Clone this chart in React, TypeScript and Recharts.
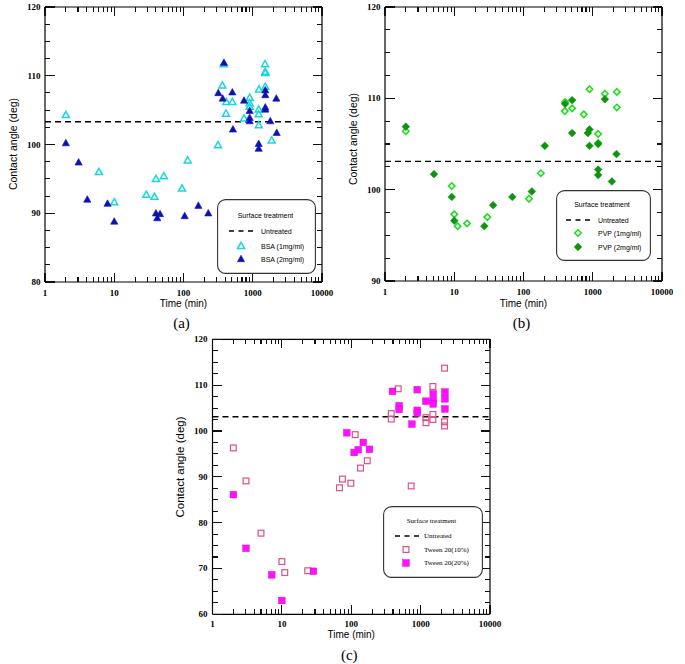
import React from 'react';
import { ScatterChart, Scatter, XAxis, YAxis, ReferenceLine, Legend } from 'recharts';

// ---------- axis ticks ----------
const timeTicks = [1, 2, 3, 4, 5, 6, 7, 8, 9, 10, 20, 30, 40, 50, 60, 70, 80, 90, 100, 200, 300, 400, 500, 600, 700, 800, 900, 1000, 2000, 3000, 4000, 5000, 6000, 7000, 8000, 9000, 10000];
const timeLabels = [1, 10, 100, 1000, 10000];
const angleTicksA = [80, 82.5, 85, 87.5, 90, 92.5, 95, 97.5, 100, 102.5, 105, 107.5, 110, 112.5, 115, 117.5, 120];
const angleLabelsA = [80, 90, 100, 110, 120];
const angleTicksB = [90, 92.5, 95, 97.5, 100, 102.5, 105, 107.5, 110, 112.5, 115, 117.5, 120];
const angleLabelsB = [90, 100, 110, 120];
const angleTicksC = [60, 62.5, 65, 67.5, 70, 72.5, 75, 77.5, 80, 82.5, 85, 87.5, 90, 92.5, 95, 97.5, 100, 102.5, 105, 107.5, 110, 112.5, 115, 117.5, 120];
const angleLabelsC = [60, 70, 80, 90, 100, 110, 120];

// ---------- untreated reference angles ----------
const untreatedA = 103.3;
const untreatedB = 103.1;
const untreatedC = 103.1;

// ---------- series: [time (min), contact angle (deg)] ----------
const bsa1: [number, number][] = [
  [2, 104.3], [6, 96.0], [10, 91.6], [29, 92.7], [38, 92.4], [40, 95.0], [52, 95.4], [95, 93.6], [115, 97.7],
  [315, 99.9], [364, 108.6], [380, 111.7], [411, 104.5], [415, 106.2], [507, 106.2], [748, 103.8],
  [903, 106.8], [903, 106.0], [903, 105.5], [1219, 105.1], [1219, 104.4], [1219, 102.8], [1230, 108.0],
  [1503, 111.7], [1518, 110.6], [1518, 110.4], [1518, 108.4], [1877, 100.6],
];
const bsa2: [number, number][] = [
  [2, 100.2], [3.06, 97.4], [4.08, 92.0], [8, 91.4], [10, 88.8], [40, 90.0], [41.8, 89.3], [45.8, 89.9],
  [104, 89.6], [164, 91.1], [228, 90.0], [318, 107.5], [368, 106.7], [384, 111.9], [507, 107.6], [518, 102.2],
  [748, 106.4], [903, 104.9], [903, 103.9], [903, 103.4], [1219, 100.1], [1219, 99.4], [1518, 107.9],
  [1518, 107.2], [1518, 105.4], [1518, 105.1], [1793, 103.4], [2188, 106.7], [2218, 101.7],
];
const pvp1: [number, number][] = [
  [2, 106.4], [9.2, 100.4], [10, 97.3], [11.2, 96.0], [15.3, 96.3], [30, 97.0], [120, 99.0], [178, 101.8],
  [395, 108.6], [399, 109.6], [504, 108.9], [743, 108.25], [897, 111.0], [1197, 106.1], [1200, 105.1],
  [1496, 110.5], [2229, 110.7], [2229, 109.0],
];
const pvp2: [number, number][] = [
  [2, 106.9], [5.1, 101.7], [9.2, 99.2], [10, 96.6], [27.2, 96.0], [36.4, 98.3], [69, 99.2], [132, 99.8],
  [203, 104.8], [399, 109.4], [504, 109.8], [504, 106.2], [850, 106.2], [897, 106.6], [897, 104.8],
  [1197, 105.0], [1197, 102.2], [1197, 101.6], [1496, 109.9], [1890, 100.9], [2200, 103.9],
];
const tween10: [number, number][] = [
  [2, 96.3], [3.04, 89.1], [5, 77.7], [10, 71.5], [11, 69.1], [23.6, 69.5], [67.6, 87.6], [74.6, 89.5],
  [98.7, 88.6], [114, 99.2], [136, 91.9], [170, 93.5], [377, 103.8], [377, 102.6], [475, 109.2], [731, 88.0],
  [1194, 102.9], [1194, 101.8], [1503, 109.7], [1503, 103.6], [1503, 102.5], [2213, 113.7], [2213, 102.0], [2213, 101.1],
];
const tween20: [number, number][] = [
  [2, 86.1], [3.04, 74.4], [7.15, 68.6], [10, 63.0], [28.5, 69.4], [86.4, 99.6], [110, 95.3], [126, 95.9],
  [149, 97.5], [183, 96.0], [393, 108.65], [490, 105.5], [490, 104.7], [749, 101.5], [893, 109.0],
  [893, 104.5], [893, 103.9], [1192, 106.5], [1516, 108.1], [1516, 106.6], [1516, 105.9], [2240, 108.5],
  [2240, 107.0], [2240, 104.8],
];

const toPts = (arr: [number, number][]) => arr.map(([x, y]) => ({ x, y }));

// ---------- marker shapes ----------
type ShapeFn = (cx: number, cy: number) => React.ReactElement;
const openTri = (c: string): ShapeFn => (cx, cy) => (
  <polygon points={`${cx},${cy - 3.6} ${cx - 3.5},${cy + 2.6} ${cx + 3.5},${cy + 2.6}`} fill="none" stroke={c} strokeWidth={1.5} />
);
const fillTri = (c: string): ShapeFn => (cx, cy) => (
  <polygon points={`${cx},${cy - 3.8} ${cx - 3.6},${cy + 2.7} ${cx + 3.6},${cy + 2.7}`} fill={c} stroke={c} strokeWidth={0.6} />
);
const openDia = (c: string): ShapeFn => (cx, cy) => (
  <polygon points={`${cx},${cy - 3.2} ${cx + 3.2},${cy} ${cx},${cy + 3.2} ${cx - 3.2},${cy}`} fill="none" stroke={c} strokeWidth={1.6} />
);
const fillDia = (c: string): ShapeFn => (cx, cy) => (
  <polygon points={`${cx},${cy - 3.9} ${cx + 3.9},${cy} ${cx},${cy + 3.9} ${cx - 3.9},${cy}`} fill={c} stroke={c} strokeWidth={0.5} />
);
const openSq = (c: string): ShapeFn => (cx, cy) => (
  <rect x={cx - 2.9} y={cy - 2.9} width={5.8} height={5.8} fill="none" stroke={c} strokeWidth={1.2} />
);
const fillSq = (c: string): ShapeFn => (cx, cy) => (
  <rect x={cx - 3.3} y={cy - 3.3} width={6.6} height={6.6} fill={c} stroke="#dd00dd" strokeWidth={0.5} />
);

type SeriesDef = { name: string; data: [number, number][]; shape: ShapeFn };

type PanelDef = {
  left: number; top: number; width: number; height: number;
  margin: { top: number; right: number; bottom: number; left: number };
  yDomain: [number, number]; yTicks: number[]; yLabels: number[];
  untreated: number;
  series: SeriesDef[];
  legend: { x: number; y: number; w: number; h: number; font: string; titleX: number; rows: number[]; dashX: [number, number]; markX: number; textX: number };
  tickFontSize: number; xLabelDy: number; yLabelDx: number;
  yTitle: { x: number; y: number; size: number };
  xTitle: { y: number; size: number };
  caption: { text: string; y: number };
};

const serif = '"Liberation Serif", "Times New Roman", serif';
const sans = '"Liberation Sans", Arial, sans-serif';
const EPS = 0.01;

function Panel(p: PanelDef) {
  const plotW = p.width - p.margin.left - p.margin.right;
  const cx = p.margin.left + plotW / 2;

  const xTick = (side: 'bottom' | 'top') => (t: any) => {
    const v = t.payload.value;
    const major = timeLabels.includes(v);
    const len = major ? 9 : 5;
    const dir = side === 'bottom' ? -1 : 1;
    const x = Number(t.x);
    const y = Number(t.y);
    return (
      <g>
        <line x1={x} x2={x} y1={y} y2={y + dir * len} stroke="#111" strokeWidth={1.1} shapeRendering="crispEdges" />
        {side === 'bottom' && major ? (
          <text x={x} y={y + p.xLabelDy} textAnchor="middle" fontFamily={serif} fontWeight="bold" fontSize={p.tickFontSize} fill="#000">{v}</text>
        ) : null}
      </g>
    );
  };
  const yTick = (side: 'left' | 'right') => (t: any) => {
    const v = t.payload.value;
    const major = p.yLabels.includes(v);
    const len = major ? 9.5 : 5;
    const dir = side === 'left' ? 1 : -1;
    const x = Number(t.x);
    const y = Number(t.y);
    return (
      <g>
        <line x1={x} x2={x + dir * len} y1={y} y2={y} stroke="#111" strokeWidth={1.1} shapeRendering="crispEdges" />
        {side === 'left' && major ? (
          <text x={x - p.yLabelDx} y={y + 3} textAnchor="end" fontFamily={serif} fontWeight="bold" fontSize={p.tickFontSize} fill="#000">{v}</text>
        ) : null}
      </g>
    );
  };

  const lg = p.legend;
  const legendContent = () => (
    <svg width={lg.w} height={lg.h} style={{ display: 'block' }}>
      <rect x={0.6} y={0.6} width={lg.w - 1.2} height={lg.h - 1.2} rx={8} ry={8} fill="#fff" stroke="#333" strokeWidth={1.1} />
      <text x={lg.titleX} y={lg.rows[0]} textAnchor="middle" dominantBaseline="central" fontFamily={lg.font} fontSize={7} fill="#000">Surface treatment</text>
      <line x1={lg.dashX[0]} x2={lg.dashX[1]} y1={lg.rows[1]} y2={lg.rows[1]} stroke="#000" strokeWidth={1.3} strokeDasharray="5 4.5" />
      <text x={lg.textX} y={lg.rows[1]} dominantBaseline="central" fontFamily={lg.font} fontSize={7} fill="#000">Untreated</text>
      {p.series.map((s, i) => (
        <g key={s.name}>
          {s.shape(lg.markX, lg.rows[i + 2])}
          <text x={lg.textX} y={lg.rows[i + 2]} dominantBaseline="central" fontFamily={lg.font} fontSize={7} fill="#000">{s.name}</text>
        </g>
      ))}
    </svg>
  );

  const xTitle = () => (
    <g>
      <text x={cx} y={p.xTitle.y} textAnchor="middle" dominantBaseline="central" fontFamily={sans} fontSize={p.xTitle.size} fill="#000">Time (min)</text>
      <text x={cx - 2} y={p.caption.y} textAnchor="middle" dominantBaseline="central" fontFamily={serif} fontSize={15} fill="#000">{p.caption.text}</text>
    </g>
  );
  const yTitle = () => (
    <text x={p.yTitle.x} y={p.yTitle.y} textAnchor="middle" dominantBaseline="central" transform={`rotate(-90, ${p.yTitle.x}, ${p.yTitle.y})`} fontFamily={sans} fontSize={p.yTitle.size} fill="#000">Contact angle (deg)</text>
  );

  const axisLine = { stroke: '#000', strokeWidth: 1.2 };
  const m = { ...p.margin, left: p.margin.left - EPS, right: p.margin.right - EPS, top: p.margin.top - EPS, bottom: p.margin.bottom - EPS };

  return (
    <div style={{ position: 'absolute', left: p.left, top: p.top, width: p.width, height: p.height }}>
      <ScatterChart width={p.width} height={p.height} margin={m}>
        <XAxis xAxisId="b" type="number" dataKey="x" scale="log" domain={[1, 10000]} allowDataOverflow ticks={timeTicks} interval={0}
          height={EPS} tickSize={0} tickMargin={0} tickLine={false} axisLine={axisLine} tick={xTick('bottom')} label={xTitle} />
        <XAxis xAxisId="t" orientation="top" type="number" dataKey="x" scale="log" domain={[1, 10000]} allowDataOverflow ticks={timeTicks} interval={0}
          height={EPS} tickSize={0} tickMargin={0} tickLine={false} axisLine={axisLine} tick={xTick('top')} />
        <YAxis yAxisId="l" type="number" dataKey="y" domain={p.yDomain} allowDataOverflow ticks={p.yTicks} interval={0}
          width={EPS} tickSize={0} tickMargin={0} tickLine={false} axisLine={axisLine} tick={yTick('left')} label={yTitle} />
        <YAxis yAxisId="r" orientation="right" type="number" dataKey="y" domain={p.yDomain} allowDataOverflow ticks={p.yTicks} interval={0}
          width={EPS} tickSize={0} tickMargin={0} tickLine={false} axisLine={axisLine} tick={yTick('right')} />
        <ReferenceLine xAxisId="b" yAxisId="l" y={p.untreated} stroke="#000" strokeWidth={1.4} strokeDasharray="6 4" />
        <Scatter xAxisId="t" yAxisId="r" data={[]} isAnimationActive={false} legendType="none" />
        {p.series.map((s) => (
          <Scatter key={s.name} name={s.name} xAxisId="b" yAxisId="l" data={toPts(s.data)} isAnimationActive={false}
            shape={(sp: any) => s.shape(sp.cx, sp.cy)} />
        ))}
        <Legend layout="vertical" align="center" verticalAlign="middle" width={lg.w} height={lg.h}
          wrapperStyle={{ left: lg.x, top: lg.y, width: lg.w, height: lg.h }} content={legendContent} />
      </ScatterChart>
    </div>
  );
}

const panelA: PanelDef = {
  left: 0, top: 0, width: 340, height: 335,
  margin: { top: 7, right: 18, bottom: 53, left: 45 },
  yDomain: [80, 120], yTicks: angleTicksA, yLabels: angleLabelsA, untreated: untreatedA,
  series: [
    { name: 'BSA (1mg/ml)', data: bsa1, shape: openTri('#1cd6de') },
    { name: 'BSA (2mg/ml)', data: bsa2, shape: fillTri('#0c12b2') },
  ],
  legend: { x: 217, y: 199, w: 99, h: 75, font: sans, titleX: 48.5, rows: [16, 32, 47, 60], dashX: [12, 36], markX: 24, textX: 44 },
  tickFontSize: 9, xLabelDy: 13.5, yLabelDx: 4.5,
  yTitle: { x: 13, y: 144, size: 10.5 },
  xTitle: { y: 303.5, size: 10 },
  caption: { text: '(a)', y: 323 },
};

const panelB: PanelDef = {
  left: 340, top: 0, width: 345, height: 335,
  margin: { top: 7, right: 23, bottom: 54, left: 45 },
  yDomain: [90, 120], yTicks: angleTicksB, yLabels: angleLabelsB, untreated: untreatedB,
  series: [
    { name: 'PVP (1mg/ml)', data: pvp1, shape: openDia('#22dc22') },
    { name: 'PVP (2mg/ml)', data: pvp2, shape: fillDia('#0d960d') },
  ],
  legend: { x: 216, y: 190, w: 95, h: 71, font: sans, titleX: 46, rows: [14, 30, 43, 57], dashX: [10, 35], markX: 22, textX: 42 },
  tickFontSize: 9, xLabelDy: 13.5, yLabelDx: 4.5,
  yTitle: { x: 13, y: 139, size: 10.5 },
  xTitle: { y: 303.5, size: 10 },
  caption: { text: '(b)', y: 323 },
};

const panelC: PanelDef = {
  left: 170, top: 330, width: 340, height: 334,
  margin: { top: 9.3, right: 20, bottom: 49.7, left: 42.5 },
  yDomain: [60, 120], yTicks: angleTicksC, yLabels: angleLabelsC, untreated: untreatedC,
  series: [
    { name: 'Tween 20(10%)', data: tween10, shape: openSq('#dc4f8c') },
    { name: 'Tween 20(20%)', data: tween20, shape: fillSq('#ff11ff') },
  ],
  legend: { x: 213, y: 176, w: 100, h: 72, font: serif, titleX: 48.5, rows: [15, 30, 43.5, 57], dashX: [12, 36], markX: 23, textX: 41 },
  tickFontSize: 9, xLabelDy: 13, yLabelDx: 5,
  yTitle: { x: 10, y: 137, size: 11.5 },
  xTitle: { y: 304.5, size: 10 },
  caption: { text: '(c)', y: 325 },
};

export default function App() {
  return (
    <div style={{ position: 'absolute', left: 0, top: 0, width: 685, height: 664, background: '#fff' }}>
      <Panel {...panelA} />
      <Panel {...panelB} />
      <Panel {...panelC} />
    </div>
  );
}
